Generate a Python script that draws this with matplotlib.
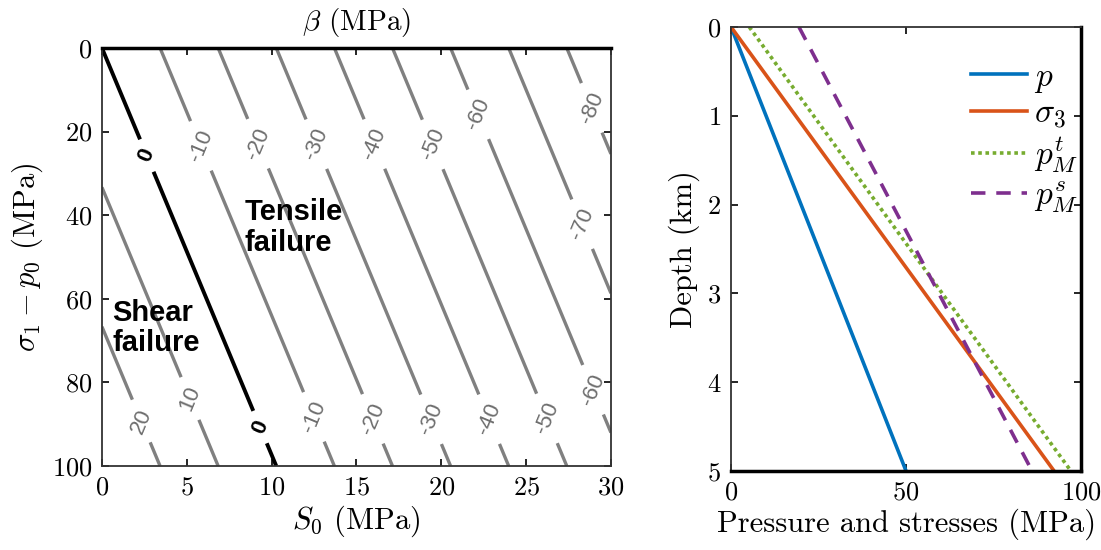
import numpy as np
import matplotlib
matplotlib.use('Agg')
import matplotlib.pyplot as plt

plt.rcParams['font.family'] = 'serif'
plt.rcParams['font.serif'] = ['cmr10']
plt.rcParams['mathtext.fontset'] = 'cm'
plt.rcParams['axes.formatter.use_mathtext'] = True

# left panel: beta(S0, sigma1 - p0), linear field
s0_range = [0, 30]
dsig_range = [0, 100]
beta_levels = [-80, -70, -60, -50, -40, -30, -20, -10, 0, 10, 20]
coef_s0 = -2.92     # MPa of beta per MPa of S0
coef_dsig = 0.30    # MPa of beta per MPa of sigma1 - p0
label_spots = [(2.6, 25.8), (5.6, 23.8), (8.9, 23.4), (12.4, 23.4), (15.8, 23.4),
               (19.3, 23.4), (22.1, 16.0), (28.7, 14.6), (28.5, 41.8),
               (2.1, 89.6), (5.1, 84.0), (9.25, 90.8), (12.4, 88.4), (15.8, 89.0),
               (19.3, 89.0), (22.7, 89.0), (26.0, 89.0), (28.8, 82.0)]

# right panel: linear profiles with depth (endpoints at 0 and 5 km)
depth = [0, 5]
p = [0, 50]
sigma3 = [0, 92.3]
pM_t = [5.2, 97.1]
pM_s = [19.4, 86.0]

fig = plt.figure(figsize=(11.01, 5.5), dpi=100)

# ---------- left ----------
ax1 = fig.add_axes([0.0926, 0.1527, 0.4623, 0.76])
S0, D = np.meshgrid(np.linspace(*s0_range, 121), np.linspace(*dsig_range, 201))
B = coef_s0 * S0 + coef_dsig * D
gray_lv = [lv for lv in beta_levels if lv != 0]
cs = ax1.contour(S0, D, B, levels=gray_lv, colors='#808080', linewidths=2.4,
                 linestyles='solid')
cs0 = ax1.contour(S0, D, B, levels=[0], colors='black', linewidths=2.8)
lab_g = ax1.clabel(cs, fmt='%d', fontsize=16, inline=True, inline_spacing=12,
                   manual=[pt for pt in label_spots if abs(coef_s0*pt[0] + coef_dsig*pt[1]) > 4])
lab_0 = ax1.clabel(cs0, fmt='%d', fontsize=16, inline=True, inline_spacing=12,
                   manual=[pt for pt in label_spots if abs(coef_s0*pt[0] + coef_dsig*pt[1]) <= 4])
for t in lab_g:
    t.set_fontfamily('Liberation Sans')
    t.set_color('#6e6e6e')
for t in lab_0:
    t.set_fontfamily('Liberation Sans')
    t.set_fontweight('bold')

ax1.set_xlim(*s0_range)
ax1.set_ylim(dsig_range[1], dsig_range[0])
ax1.set_xticks(np.arange(0, 31, 5))
ax1.set_yticks(np.arange(0, 101, 20))
ax1.tick_params(direction='in', top=True, right=True, labelsize=19, length=5,
                width=1.2, pad=7)
for sp in ax1.spines.values():
    sp.set_linewidth(1.3)
    sp.set_color('#333333')
ax1.spines['top'].set_linewidth(2.5)
ax1.spines['top'].set_color('black')
ax1.set_xlabel(r'$S_0$ (MPa)', fontsize=22, labelpad=3)
ax1.set_ylabel(r'$\sigma_1 - p_0$ (MPa)', fontsize=22, labelpad=5)
ax1.set_title(r'$\beta$ (MPa)', fontsize=21, pad=13)

ax1.text(8.4, 36.0, 'Tensile\nfailure', fontsize=21, fontweight='bold',
         family='Liberation Sans', ha='left', va='top', linespacing=1.1)
ax1.text(0.6, 60.0, 'Shear\nfailure', fontsize=21, fontweight='bold',
         family='Liberation Sans', ha='left', va='top', linespacing=1.1)

# ---------- right ----------
ax2 = fig.add_axes([0.664, 0.1436, 0.3179, 0.8073])
ax2.plot(p, depth, color='#0072BD', lw=2.6, label=r'$p$')
ax2.plot(sigma3, depth, color='#D95319', lw=2.6, label=r'$\sigma_3$')
ax2.plot(pM_t, depth, color='#77AC30', lw=2.6, ls=(0, (1, 1)), label=r'$p_M^t$')
ax2.plot(pM_s, depth, color='#7E2F8E', lw=2.6, ls=(0, (4, 3)), label=r'$p_M^s$')
ax2.set_xlim(0, 100)
ax2.set_ylim(5, 0)
ax2.set_xticks([0, 50, 100])
ax2.set_yticks(range(6))
ax2.tick_params(direction='in', top=True, right=True, labelsize=19, length=5,
                width=1.2, pad=7)
for sp in ax2.spines.values():
    sp.set_linewidth(1.3)
    sp.set_color('#333333')
for s in ['right', 'bottom']:
    ax2.spines[s].set_linewidth(2.5)
    ax2.spines[s].set_color('black')
ax2.set_xlabel('Pressure and stresses (MPa)', fontsize=22, labelpad=3)
ax2.set_ylabel('Depth (km)', fontsize=22, labelpad=5)
ax2.legend(loc='upper right', bbox_to_anchor=(1.03, 0.95), frameon=False, fontsize=24,
           handlelength=1.7, handletextpad=0.2, labelspacing=0.12, borderaxespad=0)

fig.savefig('out.png', dpi=100)
